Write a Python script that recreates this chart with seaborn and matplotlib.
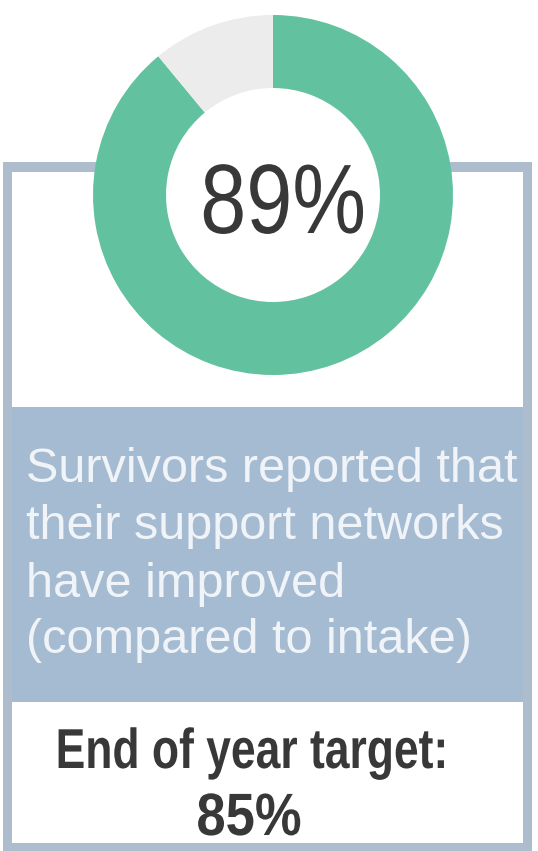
import matplotlib
matplotlib.use('Agg')
import matplotlib.pyplot as plt
import seaborn as sns
from matplotlib import patheffects
from matplotlib.patches import Circle, Rectangle
from matplotlib.transforms import Affine2D

# data
labels = ['Improved', 'Not improved']
values = [89, 11]
result_label = '89%'
caption_lines = ['Survivors reported that', 'their support networks',
                 'have improved', '(compared to intake)']
target_label = 'End of year target:'
target_value = '85%'

W, H = 538, 851


def y(py):
    # image pixel row -> data y (y goes up)
    return H - py


class Squeeze(patheffects.AbstractPathEffect):
    """Narrow the glyphs horizontally around x0 (no condensed font installed)."""

    def __init__(self, sx, x0):
        super().__init__()
        self._sx = sx
        self._x0 = x0

    def draw_path(self, renderer, gc, tpath, affine, rgbFace=None):
        squash = Affine2D().translate(-self._x0, 0).scale(self._sx, 1).translate(self._x0, 0)
        renderer.draw_path(gc, tpath, affine + squash, rgbFace)


def main():
    sns.set_theme(style='white')
    plt.rcParams['font.family'] = ['Liberation Sans', 'DejaVu Sans']

    green, grey = sns.color_palette(['#62c2a0', '#ececec'])
    border = '#aebdce'
    panel = '#a5bbd1'
    dark = '#383838'

    fig = plt.figure(figsize=(W / 100, H / 100), dpi=100)
    ax = fig.add_axes([0, 0, 1, 1])

    # frame with the blue caption panel
    ax.add_patch(Rectangle((3, y(851)), 529, 851 - 162, facecolor=border, edgecolor='none', zorder=1))
    ax.add_patch(Rectangle((12, y(843)), 511, 843 - 172, facecolor='white', edgecolor='none', zorder=1))
    ax.add_patch(Rectangle((12, y(702)), 511, 702 - 407, facecolor=panel, edgecolor='none', zorder=1))

    # donut
    wedges, _ = ax.pie(values, labels=None, colors=[green, grey], startangle=90, counterclock=False,
                       radius=180, center=(273, y(195)),
                       wedgeprops=dict(width=73, edgecolor='none', linewidth=0))
    for w in wedges:
        w.set_zorder(3)
    ax.add_patch(Circle((273, y(195)), 107.5, facecolor='white', edgecolor='none', zorder=2))

    ax.text(283, y(233), result_label, ha='center', va='baseline', fontsize=71,
            color=dark, zorder=4, path_effects=[Squeeze(0.84, 283)])

    for line, base in zip(caption_lines, [482, 539, 597, 653]):
        ax.text(26, y(base), line, ha='left', va='baseline', fontsize=35, color='#f0f4f8', zorder=4)

    ax.text(252, y(768), target_label, ha='center', va='baseline', fontsize=40.5, fontweight='bold',
            color=dark, zorder=4, path_effects=[Squeeze(0.79, 252)])
    ax.text(249, y(835), target_value, ha='center', va='baseline', fontsize=43, fontweight='bold',
            color=dark, zorder=4, path_effects=[Squeeze(0.88, 249)])

    ax.set_xlim(0, W)
    ax.set_ylim(0, H)
    ax.set_aspect('auto')
    ax.axis('off')

    fig.savefig('out.png', dpi=100)


if __name__ == '__main__':
    main()
